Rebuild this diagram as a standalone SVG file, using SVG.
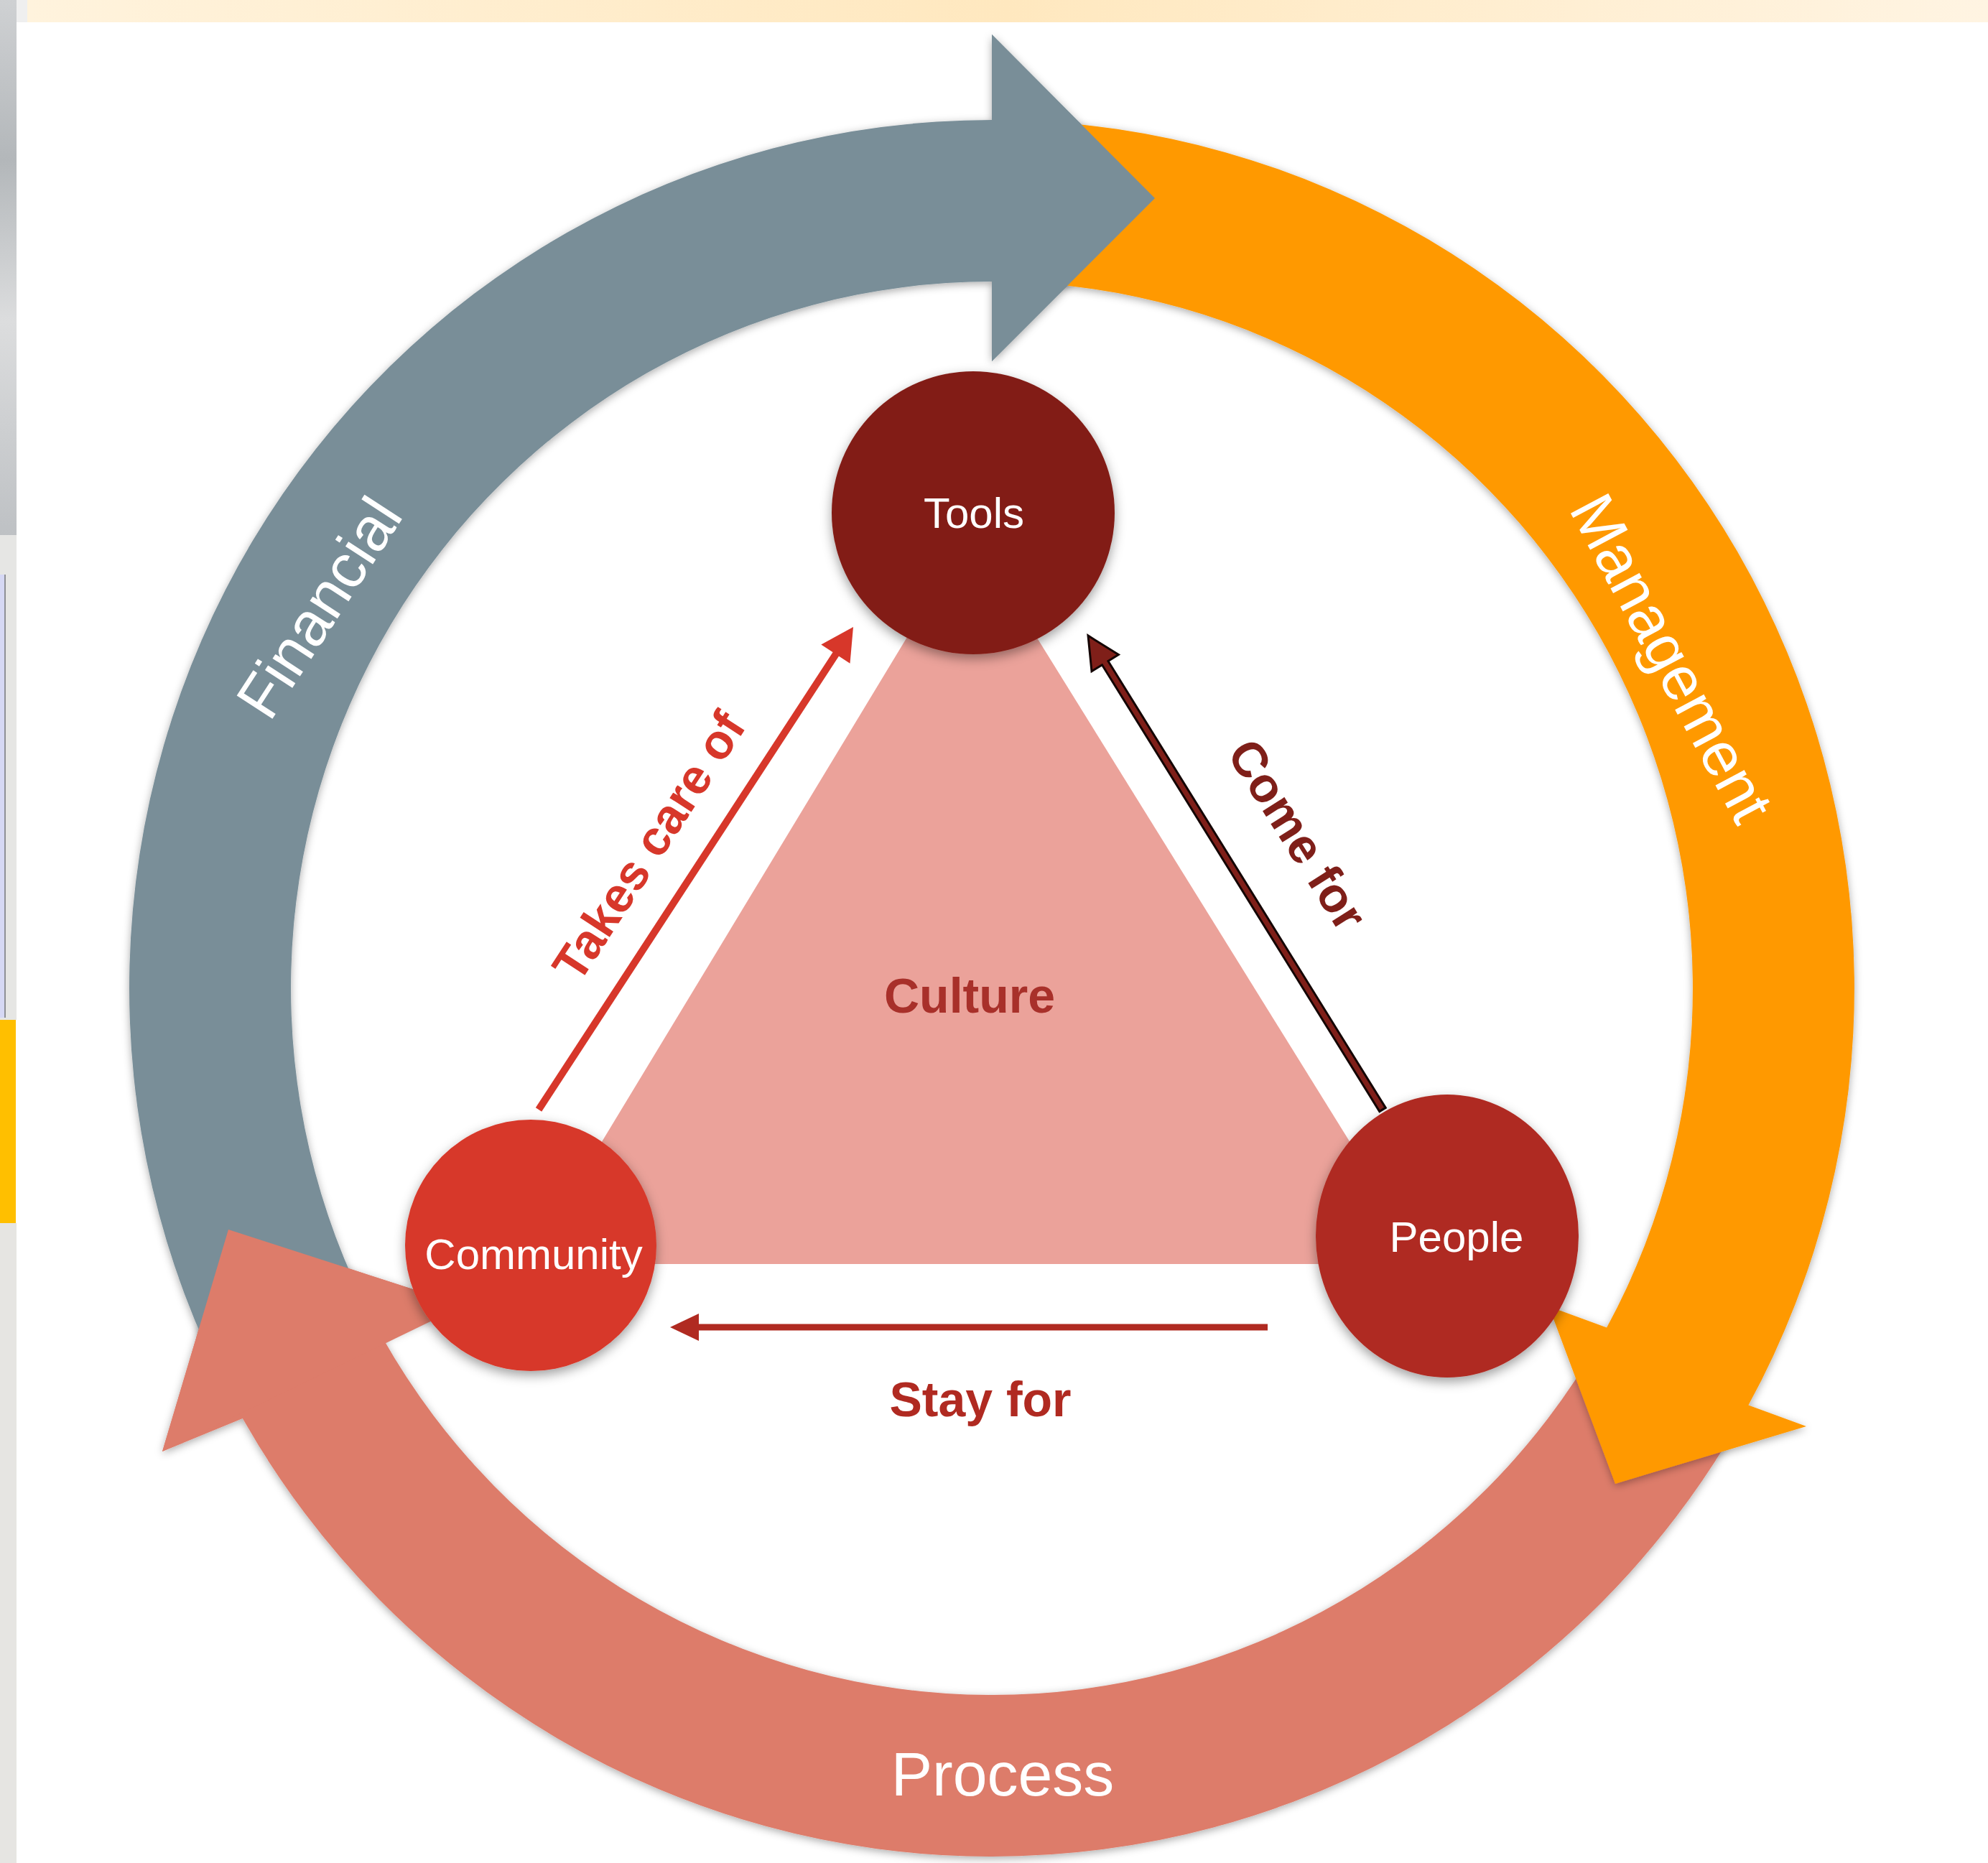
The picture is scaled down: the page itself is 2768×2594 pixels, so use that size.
<svg xmlns="http://www.w3.org/2000/svg" width="2768" height="2594" viewBox="0 0 2768 2594">
<defs>
<style>
.ring{font-family:"Liberation Sans",Arial,sans-serif;fill:#ffffff;font-size:86px;text-anchor:middle;}
.nodet{font-family:"Liberation Sans",Arial,sans-serif;fill:#ffffff;font-size:60px;text-anchor:middle;}
.bl{font-family:"Liberation Sans",Arial,sans-serif;font-weight:700;font-size:68px;text-anchor:middle;}
.sh{filter:url(#shArrow);}
.shc{filter:url(#shCircle);}
</style>
<filter id="shArrow" x="-10%" y="-10%" width="120%" height="120%">
<feDropShadow dx="0" dy="3" stdDeviation="6" flood-color="#000" flood-opacity="0.33"/>
</filter>
<filter id="shCircle" x="-20%" y="-20%" width="140%" height="140%">
<feDropShadow dx="0" dy="6" stdDeviation="8" flood-color="#000" flood-opacity="0.38"/>
</filter>
<linearGradient id="topg" x1="0" y1="0" x2="1" y2="0">
<stop offset="0" stop-color="#FFF3DD"/>
<stop offset="0.5" stop-color="#FFE8BF"/>
<stop offset="1" stop-color="#FFF4E2"/>
</linearGradient>
<linearGradient id="leftg" x1="0" y1="0" x2="0" y2="1">
<stop offset="0" stop-color="#CFD1D3"/>
<stop offset="0.3" stop-color="#B3B7BA"/>
<stop offset="0.6" stop-color="#DCDDDE"/>
<stop offset="1" stop-color="#BEC1C4"/>
</linearGradient>
</defs>

<g id="background">
<rect x="0" y="0" width="2768" height="2594" fill="#ffffff"/>
<rect x="38" y="0" width="2730" height="31" fill="url(#topg)"/>
<rect x="0" y="0" width="23" height="745" fill="url(#leftg)"/>
<rect x="0" y="745" width="23" height="675" fill="#E6E6E4"/>
<rect x="0" y="800" width="8" height="617" fill="#D6D8F4"/>
<rect x="6" y="800" width="2" height="617" fill="#8E9096"/>
<rect x="0" y="1420" width="22" height="283" fill="#FFBF00"/>
<rect x="0" y="1703" width="23" height="891" fill="#E6E5E2"/>
<rect x="23" y="0" width="15" height="31" fill="#EFEFEF"/>
</g>

<g id="process-arrow">
<path class="sh" fill="#DD7C6A" d="M 2421.1,1980.5 A 1201 1209 0 0 1 337.8,1975.1 L 226,2021 L 318,1712 L 645,1817.8 L 533.2,1863.6 A 976 984 0 0 0 2226.2,1868 Z"/>
</g>
<g id="financial-arrow">
<path class="sh" fill="#798E98" d="M 320.6,1943.6 A 1201 1209 0 0 1 1381,167 L 1381,48 L 1608,276 L 1381,503 L 1381,392 A 976 984 0 0 0 519.3,1838 Z"/>
</g>
<g id="management-arrow">
<path class="sh" fill="#FF9900" d="M 1402,167.2 A 1201 1209 0 0 1 2434.4,1956.6 L 2515,1986 L 2249,2066 L 2156.5,1819 L 2237.1,1848.5 A 976 984 0 0 0 1398,392.2 Z"/>
</g>
<g id="arrow-heads-overlap">
<polygon fill="#798E98" points="1381,48 1608,276 1381,503"/>
<polygon fill="#DD7C6A" points="226,2021 318,1712 645,1817.8"/>
</g>
<g id="ring-labels">
<text class="ring" transform="translate(444,846) rotate(-57)" y="30">Financial</text>
<text class="ring" transform="translate(2328,916) rotate(62)" y="30">Management</text>
<text class="ring" x="1396" y="2500">Process</text>
</g>

<g id="culture">
<polygon fill="#EBA29A" points="1352,740 735,1760 1985,1760"/>
<text class="bl" fill="#A8302A" x="1350" y="1410">Culture</text>
</g>

<g id="connectors">
<g id="takes-care-of">
<line x1="750" y1="1545" x2="1165" y2="909" stroke="#D7372A" stroke-width="10"/>
<polygon fill="#D7372A" points="1188,873 1183.5,923.8 1143.3,897.6"/>
<text class="bl" fill="#D7372A" transform="translate(903,1178) rotate(-56.9)" y="24">Takes care of</text>
</g>
<g id="come-for">
<polygon fill="#7F1F19" stroke="#140504" stroke-width="3" points="1929.2,1542.4 1542.9,920.6 1557.4,911.6 1515,885 1520,934.8 1534.5,925.8 1920.8,1547.6"/>
<text class="bl" fill="#7F1F19" transform="translate(1807,1162) rotate(57.7)" y="24">Come for</text>
</g>
<g id="stay-for">
<line x1="1765" y1="1848" x2="970" y2="1848" stroke="#B02A21" stroke-width="9"/>
<polygon fill="#B02A21" points="933,1848 973,1829 973,1867"/>
<text class="bl" fill="#B02A21" x="1365" y="1972">Stay for</text>
</g>
</g>

<g id="tools">
<circle class="shc" cx="1355" cy="714" r="197" fill="#821F19"/>
<text class="nodet" x="1356" y="735">Tools</text>
</g>
<g id="people">
<ellipse class="shc" cx="2015" cy="1721" rx="183" ry="197" fill="#AF2A21"/>
<text class="nodet" x="2028" y="1743">People</text>
</g>
<g id="community">
<circle class="shc" cx="739" cy="1734" r="175" fill="#D7382A"/>
<text class="nodet" x="743" y="1767">Community</text>
</g>
</svg>
